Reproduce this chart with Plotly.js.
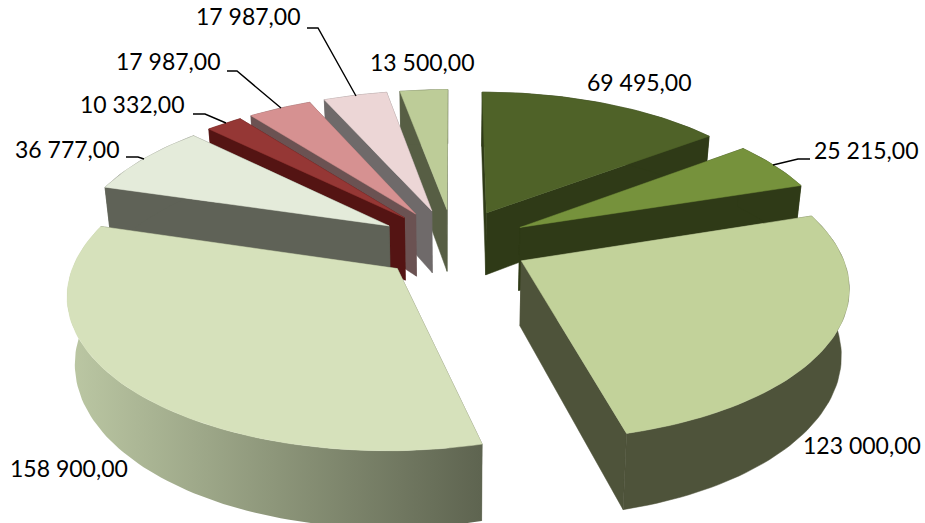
<!DOCTYPE html>
<html>
<head>
<meta charset="utf-8">
<script src="https://cdn.plot.ly/plotly-3.0.1.min.js"></script>
<style>html,body{margin:0;padding:0;background:#fff}#chart{width:925px;height:523px}</style>
</head>
<body>
<div id="chart"></div>
<script>
// ---- data ----
const sliceValues = [69495, 25215, 123000, 158900, 36777, 10332, 17987, 17987, 13500];
const topColors   = ['#4f6228', '#76923c', '#c2d29a', '#d6e1bb', '#e4ebda', '#953735', '#d69191', '#ecd6d6', '#bdcc98'];
const wallColors  = ['#2f3a17', '#2f3a17', '#4e533a', '#5e6450', '#5f6257', '#541413', '#6b5252', '#6f6a6a', '#575e44'];
const outerGrad   = [null, null, null, ['#bcc8a4', '#5e6450'], null, null, null, null, null];
const labelCenters = [[639,82],[866,150],[862,445],[69,468],[67,149],[132,104],[168,61],[248,16],[422,62]];
const leaders = [
  null,
  [[810,159],[798,159],[773,165]],
  null,
  null,
  [[126,157],[138,157],[144,159]],
  [[193,114],[205,114],[226,123]],
  [[227,71],[237,71],[281,108]],
  [[307,28],[318,28],[356,96]],
  null
];

// ---- 3D pie projection ----
const cam = {cx:453.5, cy:243.5, S:317, T:147, k:0.148, H:64, shrink:0.02, explode:0.24};
const total = sliceValues.reduce((a,b)=>a+b,0);
function project(u, v, down){
  const w = 1/(1 + cam.k*v);
  const xs = 1 - cam.shrink*down;
  return [cam.cx + cam.S*u*w*xs, cam.cy - cam.T*v*w + cam.H*w*down];
}
function fmt(n){
  return String(n).replace(/\B(?=(\d{3})+$)/g,' ') + ',00';
}
function poly(pts, color, grad){
  const t = {type:'scatter', mode:'lines', x:pts.map(p=>p[0]), y:pts.map(p=>p[1]),
    fill:'toself', fillcolor:color, line:{width:0.5, color:color}, hoverinfo:'skip', showlegend:false};
  if(grad){
    t.line = {width:0};
    t.fillgradient = {type:'horizontal', colorscale:[[0,grad[0]],[1,grad[1]]]};
  }
  return t;
}
let run = 0;
const slices = sliceValues.map((val,i)=>{
  const a0 = run/total*2*Math.PI; run += val;
  const a1 = run/total*2*Math.PI;
  const mid = (a0+a1)/2;
  return {i, a0, a1, ou:cam.explode*Math.sin(mid), ov:cam.explode*Math.cos(mid)};
});
const traces = [];
slices.slice().sort((p,q)=>q.ov-p.ov).forEach(s=>{
  const n = Math.max(4, Math.ceil((s.a1-s.a0)/0.025));
  const rim = [];
  for(let j=0;j<=n;j++){
    const a = s.a0 + (s.a1-s.a0)*j/n;
    rim.push([s.ou+Math.sin(a), s.ov+Math.cos(a)]);
  }
  const apex = [s.ou, s.ov];
  const P = d => (p => project(p[0],p[1],d));
  const wallA = [apex, rim[0]];
  const wallB = [apex, rim[n]];
  const quads = [wallA, wallB].map(w=>({
    d:(w[0][1]+w[1][1])/2,
    pts:[P(0)(w[0]),P(0)(w[1]),P(1)(w[1]),P(1)(w[0]),P(0)(w[0])]
  })).sort((p,q)=>q.d-p.d);
  quads.forEach(q=>traces.push(poly(q.pts, wallColors[s.i])));
  const outer = rim.map(P(0)).concat(rim.slice().reverse().map(P(1)));
  outer.push(outer[0]);
  traces.push(poly(outer, wallColors[s.i], outerGrad[s.i]));
  const top = [apex].concat(rim).concat([apex]).map(P(0));
  traces.push(poly(top, topColors[s.i]));
});

const annotations = sliceValues.map((v,i)=>({
  x:labelCenters[i][0], y:labelCenters[i][1], xref:'x', yref:'y',
  text:fmt(v), showarrow:false, xanchor:'center', yanchor:'middle',
  font:{family:'Lato, Carlito, sans-serif', size:23, color:'#000'}
}));
const shapes = leaders.filter(Boolean).map(l=>({
  type:'path', xref:'x', yref:'y',
  path:'M'+l.map(p=>p[0]+','+p[1]).join(' L'),
  line:{color:'#000', width:1.4}
}));
const hidden = {visible:false, fixedrange:true};
const layout = {
  width:925, height:523, margin:{l:0,r:0,t:0,b:0},
  paper_bgcolor:'#fff', plot_bgcolor:'#fff', showlegend:false,
  xaxis:Object.assign({range:[0,925]},hidden),
  yaxis:Object.assign({range:[523,0]},hidden),
  annotations, shapes
};
Plotly.newPlot('chart', traces, layout, {displayModeBar:false, staticPlot:true});
</script>
</body>
</html>
